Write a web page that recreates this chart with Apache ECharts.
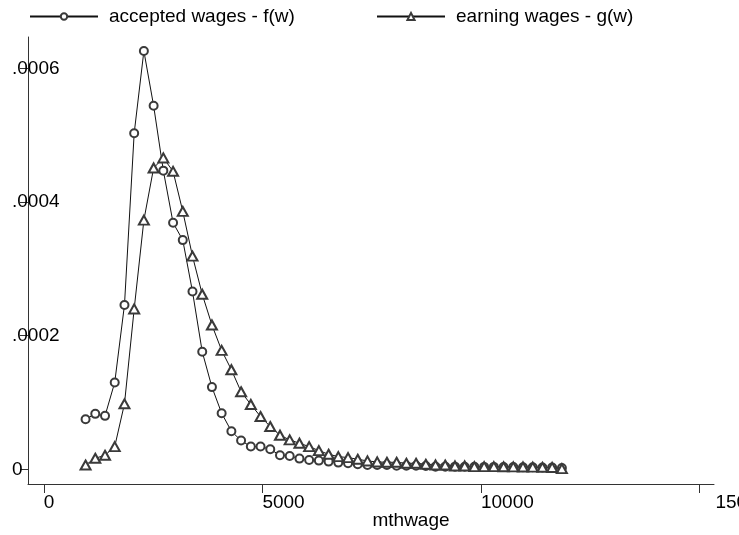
<!DOCTYPE html>
<html>
<head>
<meta charset="utf-8">
<script src="https://cdn.jsdelivr.net/npm/echarts@6/dist/echarts.min.js"></script>
<style>
html,body{margin:0;padding:0;background:#fff;}
#chart{width:739px;height:535px;}
</style>
</head>
<body>
<div id="chart"></div>
<script>
// evaluation points (mthwage)
var mthwage = [955, 1177, 1400, 1622, 1845, 2067, 2289, 2512, 2734, 2957,
  3179, 3401, 3624, 3846, 4068, 4291, 4513, 4736, 4958, 5180,
  5403, 5625, 5848, 6070, 6292, 6515, 6737, 6960, 7182, 7404,
  7627, 7849, 8071, 8294, 8516, 8739, 8961, 9183, 9406, 9628,
  9850, 10073, 10295, 10518, 10740, 10962, 11185, 11407, 11629, 11852];

// accepted wages - f(w)
var fw = [7.5e-5, 8.3e-5, 8.0e-5, 1.30e-4, 2.46e-4, 5.03e-4, 6.26e-4, 5.44e-4, 4.47e-4, 3.69e-4,
  3.43e-4, 2.66e-4, 1.76e-4, 1.23e-4, 8.4e-5, 5.7e-5, 4.3e-5, 3.4e-5, 3.4e-5, 3.0e-5,
  2.1e-5, 2.0e-5, 1.6e-5, 1.4e-5, 1.3e-5, 1.15e-5, 1.0e-5, 9.0e-6, 7.5e-6, 6.5e-6,
  6.4e-6, 6.4e-6, 5.4e-6, 5.4e-6, 5.4e-6, 5.0e-6, 4.0e-6, 4.0e-6, 4.0e-6, 3.8e-6,
  3.8e-6, 3.6e-6, 3.6e-6, 3.5e-6, 3.4e-6, 3.2e-6, 3.0e-6, 2.8e-6, 2.6e-6, 2.0e-6];

// earning wages - g(w)
var gw = [6.4e-6, 1.65e-5, 2.1e-5, 3.4e-5, 9.8e-5, 2.40e-4, 3.73e-4, 4.51e-4, 4.66e-4, 4.46e-4,
  3.86e-4, 3.19e-4, 2.62e-4, 2.16e-4, 1.78e-4, 1.49e-4, 1.16e-4, 9.7e-5, 7.9e-5, 6.4e-5,
  5.1e-5, 4.4e-5, 3.9e-5, 3.4e-5, 2.8e-5, 2.25e-5, 1.9e-5, 1.75e-5, 1.5e-5, 1.25e-5,
  1.1e-5, 1.05e-5, 1.05e-5, 9.0e-6, 9.0e-6, 7.5e-6, 6.5e-6, 6.4e-6, 5.0e-6, 5.0e-6,
  4.0e-6, 4.0e-6, 4.0e-6, 3.8e-6, 3.6e-6, 3.5e-6, 3.3e-6, 3.0e-6, 2.8e-6, 1.0e-6];

var seriesNames = ['accepted wages - f(w)', 'earning wages - g(w)'];
var xTicks = [0, 5000, 10000, 15000];
var xTickLabels = ['0', '5000', '10000', '15000'];
var yTicks = [0, 0.0002, 0.0004, 0.0006];
var yTickLabels = ['0', '.0002', '.0004', '.0006'];

function pairs(xs, ys) {
  var out = [];
  for (var i = 0; i < xs.length; i++) out.push([xs[i], ys[i]]);
  return out;
}

var FONT = '"Liberation Sans", Arial, sans-serif';
var axisColor = '#333';
var lineColor = '#111';
var symColor = '#3a3a3a';

var chart = echarts.init(document.getElementById('chart'), null, {renderer: 'canvas'});
chart.setOption({
  animation: false,
  backgroundColor: '#fff',
  textStyle: {fontFamily: FONT},
  legend: [
    {
      data: [seriesNames[0]], left: 29, top: 7, itemWidth: 68, itemHeight: 8, itemGap: 0,
      textStyle: {fontSize: 19, color: '#000', fontFamily: FONT, padding: [0, 0, 0, 6]}, padding: 0
    },
    {
      data: [seriesNames[1]], left: 376, top: 7, itemWidth: 68, itemHeight: 9, itemGap: 0,
      textStyle: {fontSize: 19, color: '#000', fontFamily: FONT, padding: [0, 0, 0, 6]}, padding: 0
    }
  ],
  grid: {left: 28, right: 25, top: 37, bottom: 51, containLabel: false, outerBoundsMode: 'none'},
  xAxis: {
    type: 'value', min: -362, max: 15332,
    splitLine: {show: false},
    axisLine: {show: true, onZero: false, lineStyle: {color: axisColor, width: 1}},
    axisTick: {show: true, customValues: xTicks, length: 9, lineStyle: {color: axisColor}},
    axisLabel: {
      customValues: xTicks, align: 'left', margin: 9, fontSize: 19, color: '#000', fontFamily: FONT,
      hideOverlap: false,
      formatter: function (v) {
        var i = xTicks.indexOf(v);
        var s = i >= 0 ? xTickLabels[i] : '';
        return v === 15000 ? '{o|' + s + '}' : s;
      },
      rich: {o: {padding: [0, 0, 0, 16], fontSize: 19, color: '#000', fontFamily: FONT}}
    },
    name: 'mthwage', nameLocation: 'middle', nameGap: 27, nameMoveOverlap: false,
    nameTextStyle: {fontSize: 19, color: '#000', fontFamily: FONT, padding: [0, 0, 0, 80]}
  },
  yAxis: {
    type: 'value', min: -0.000022, max: 0.000647,
    splitLine: {show: false},
    axisLine: {show: true, onZero: false, lineStyle: {color: axisColor, width: 1}},
    axisTick: {show: true, customValues: yTicks, length: 8, lineStyle: {color: axisColor}},
    axisLabel: {
      customValues: yTicks, align: 'left', margin: 16, fontSize: 19, color: '#000', fontFamily: FONT,
      formatter: function (v) {
        for (var i = 0; i < yTicks.length; i++) if (Math.abs(yTicks[i] - v) < 1e-9) return yTickLabels[i];
        return '';
      }
    }
  },
  series: [
    {
      name: seriesNames[0], type: 'line', data: pairs(mthwage, fw),
      symbol: 'emptyCircle', symbolSize: 8,
      lineStyle: {color: lineColor, width: 1},
      itemStyle: {color: symColor, borderColor: symColor, borderWidth: 0.8},
      emphasis: {disabled: true}
    },
    {
      name: seriesNames[1], type: 'line', data: pairs(mthwage, gw),
      symbol: 'emptyTriangle', symbolSize: [10, 9],
      lineStyle: {color: lineColor, width: 1},
      itemStyle: {color: symColor, borderColor: symColor, borderWidth: 0.8},
      emphasis: {disabled: true}
    }
  ]
});
</script>
</body>
</html>
